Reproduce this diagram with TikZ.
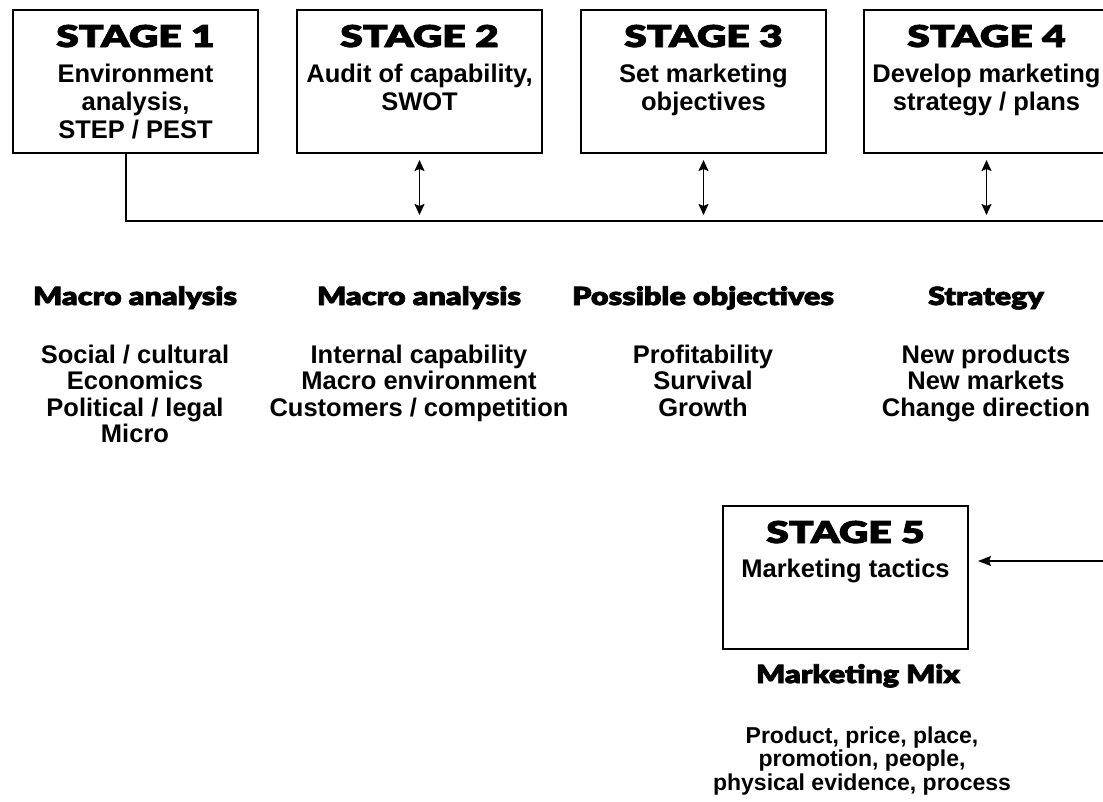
\documentclass[tikz,border=0pt]{standalone}
\usepackage{fontspec}
\setmainfont{Liberation Sans}
\IfFontExistsTF{Lato Black}{%
  \newfontfamily\titlefont{Lato Black}[FakeStretch=1.36, FakeBold=3]%
  \newfontfamily\headfont{Lato Black}[FakeStretch=1.22, FakeBold=3]}{%
  \newfontfamily\titlefont{Liberation Sans Bold}[FakeBold=1.2, FakeStretch=1.1]%
  \newfontfamily\headfont{Liberation Sans Bold}[FakeBold=1.2]}
\usepackage{tikz}
\usetikzlibrary{arrows.meta}

\begin{document}
\begin{tikzpicture}[x=1pt,y=-1pt,
  stagebox/.style={draw, line width=2pt, minimum width=245pt, minimum height=143pt, anchor=north west, inner sep=0},
  title/.style={font=\titlefont\fontsize{30}{33}\selectfont, anchor=base, inner sep=0},
  heading/.style={font=\headfont\fontsize{25}{28}\selectfont, anchor=base, inner sep=0},
  body/.style={font=\bfseries\fontsize{25.5}{26.5}\selectfont, align=center, anchor=base, inner sep=0},
  wire/.style={line width=1.8pt},
  dbl/.style={line width=1.7pt, {Stealth[length=11pt,width=10pt,inset=2pt]}-{Stealth[length=11pt,width=10pt,inset=2pt]}}]
\clip (0,0) rectangle (1103,801);
\fill[white] (0,0) rectangle (1103,801);

% stage boxes (base of a text = its last line)
\node[stagebox] (s1) at (12,9) {};
\node[title] (s1title) at ([yshift=-38pt]s1.north) {STAGE 1};
\node[body, font=\bfseries\fontsize{25.5}{28}\selectfont] (s1text) at ([yshift=-129pt]s1.north) {Environment\\analysis,\\STEP / PEST};

\node[stagebox] (s2) at (296,9) {};
\node[title] (s2title) at ([yshift=-38pt]s2.north) {STAGE 2};
\node[body, font=\bfseries\fontsize{25.5}{28}\selectfont] (s2text) at ([yshift=-101pt]s2.north) {Audit of capability,\\SWOT};

\node[stagebox] (s3) at (580,9) {};
\node[title] (s3title) at ([yshift=-38pt]s3.north) {STAGE 3};
\node[body, font=\bfseries\fontsize{25.5}{28}\selectfont] (s3text) at ([yshift=-101pt]s3.north) {Set marketing\\objectives};

\node[stagebox] (s4) at (863,9) {};
\node[title] (s4title) at ([yshift=-38pt]s4.north) {STAGE 4};
\node[body, font=\bfseries\fontsize{25.5}{28}\selectfont] (s4text) at ([yshift=-101pt]s4.north) {Develop marketing\\strategy / plans};

% link line under the boxes
\coordinate (drop) at (126,221);
\coordinate (busend) at (1110,221);
\draw[wire] (s1.south -| drop) -- (drop) -- (busend);
\draw[dbl] ([yshift=-6pt]s2.south) -- ([yshift=6pt]s2.south |- drop);
\draw[dbl] ([yshift=-6pt]s3.south) -- ([yshift=6pt]s3.south |- drop);
\draw[dbl] ([yshift=-6pt]s4.south) -- ([yshift=6pt]s4.south |- drop);

\node[heading] (h1) at (135,305) {Macro analysis};
\node[heading] (h2) at (419,305) {Macro analysis};
\node[heading] (h3) at (703,305) {Possible objectives};
\node[heading] (h4) at (986,305) {Strategy};

\node[body] (l1) at (135,442.5) {Social / cultural\\Economics\\Political / legal\\Micro};
\node[body] (l2) at (419,416) {Internal capability\\Macro environment\\Customers / competition};
\node[body] (l3) at (703,416) {Profitability\\Survival\\Growth};
\node[body] (l4) at (986,416) {New products\\New markets\\Change direction};

\node[stagebox] (s5) at (722,505) {};
\node[title] (s5title) at ([yshift=-38pt]s5.north) {STAGE 5};
\node[body] (s5text) at ([yshift=-72pt]s5.north) {Marketing tactics};
\coordinate (feed) at (1110,561);
\draw[wire, -{Stealth[length=13pt,width=10pt,inset=2pt]}] (feed) -- ([xshift=9pt]s5.east |- feed);

\node[heading] (mix) at (858,683) {Marketing Mix};
\node[body, font=\bfseries\fontsize{23}{23.5}\selectfont] (mixlist) at (862,790) {Product, price, place,\\promotion, people,\\physical evidence, process};
\end{tikzpicture}
\end{document}
